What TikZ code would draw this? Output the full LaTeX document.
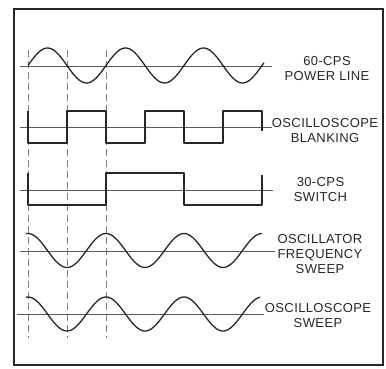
\documentclass[tikz,border=0pt]{standalone}
\usepackage{fontspec}
\usepackage{xcolor}
\usepackage{tikz}
\newfontfamily\leroy[LetterSpace=3]{Liberation Sans}
\definecolor{ink}{HTML}{262626}
\definecolor{trace}{HTML}{5A5A5A}
\definecolor{sweep}{HTML}{808080}

\begin{document}
\begin{tikzpicture}[x=1pt, y=-1pt,
  wave/.style={draw=ink, line width=1.3pt, line join=round},
  base/.style={draw=trace, line width=0.7pt},
  sync/.style={draw=sweep, line width=0.6pt, dash pattern=on 7pt off 4pt},
  lbl/.style={font=\leroy\fontsize{13}{15}\selectfont, text=ink,
              align=center, inner sep=0pt}
]
  \useasboundingbox (0,0) rectangle (386,368);
  \draw[draw=ink, line width=2.2pt] (14,9) rectangle (383,365);

  \foreach \x in {28,67,106}
    \draw[sync] (\x,50) -- (\x,338);

  \draw[base] (20,66) -- (272,66);
  \draw[base] (20,127) -- (272,127);
  \draw[base] (20,190) -- (273,190);
  \draw[base] (20,251) -- (275,251);
  \draw[base] (17,314) -- (264,314);

  \draw[wave] plot[domain=28:264, samples=120, smooth] (\x, {65.5-17.5*sin((\x-28)/78*360)});
  \draw[wave] (28,111) |- (67,143) |- (106,111) |- (145,143) |- (184,111)
              |- (223,143) |- (262,111) -- (262,131);
  \draw[wave] (28,173) |- (106,205) |- (184,173) |- (262,205) -- (262,175);
  \draw[wave] plot[domain=26:262, samples=120, smooth] (\x, {250.5-17*cos((\x-28)/78*360)});
  \draw[wave] plot[domain=26:260, samples=120, smooth] (\x, {314-17*cos((\x-28)/78*360)});

  \node[lbl] (pwr) at (327,69) {60-CPS\\POWER LINE};
  \node[lbl] (blk) at (325,130.5) {OSCILLOSCOPE\\BLANKING};
  \node[lbl] (sw) at (320.5,190) {30-CPS\\SWITCH};
  \node[lbl] (ofs) at (320,254) {OSCILLATOR\\FREQUENCY\\SWEEP};
  \node[lbl] (osw) at (318,316) {OSCILLOSCOPE\\SWEEP};
\end{tikzpicture}
\end{document}
